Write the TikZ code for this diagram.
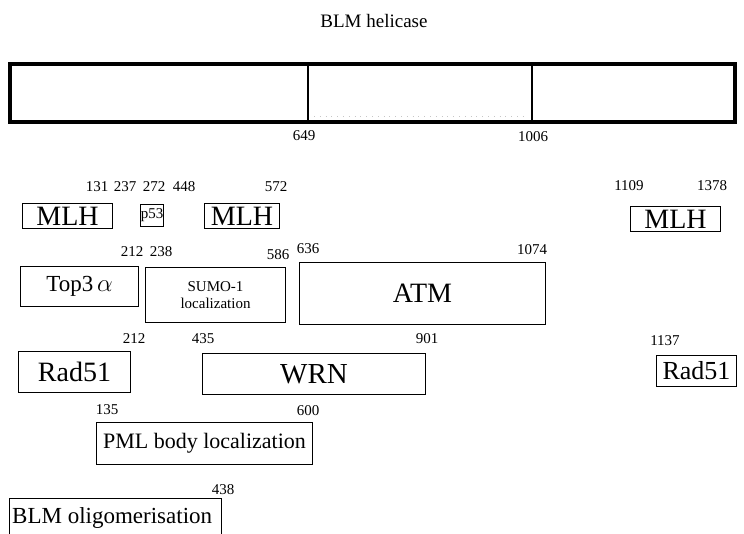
\documentclass[tikz,border=0pt]{standalone}
\usepackage{fontspec}
\setmainfont{Liberation Serif}
\begin{document}
\begin{tikzpicture}[x=1pt,y=-1pt,
  bx/.style={draw,line width=1pt,inner sep=0pt,anchor=north west},
  num/.style={inner sep=0pt,font=\fontsize{15}{15}\selectfont},
  big/.style={font=\fontsize{28}{28}\selectfont},
  mid/.style={font=\fontsize{22}{22}\selectfont}]
\useasboundingbox (0,0) rectangle (744,533);
\node[font=\fontsize{19}{19}\selectfont] (title) at (374,21) {BLM helicase};
% main bar
\draw[line width=4pt] (10,64) rectangle (735,122);
\draw[line width=1.2pt] (308,64) -- (308,122);
\draw[line width=1.2pt] (532,64) -- (532,122);
\draw[gray!45,line width=0.8pt,dash pattern=on 0.8pt off 5pt] (314,116) -- (528,116);
\node[num] (n649) at (304,136) {649};
\node[num] (n1006) at (533,137) {1006};
% row 1
\node[num] (n131) at (97,187) {131};
\node[num] (n237) at (125,187) {237};
\node[num] (n272) at (154,187) {272};
\node[num] (n448) at (184,187) {448};
\node[num] (n572) at (276,187) {572};
\node[bx,big,minimum width=90pt,minimum height=25pt] (mlh1) at (22,203) {MLH};
\node[bx,font=\fontsize{15}{15}\selectfont,minimum width=23pt,minimum height=22pt] (p53) at (140,204) {p53};
\node[bx,big,minimum width=75pt,minimum height=25pt] (mlh2) at (204,203) {MLH};
\node[num] (n1109) at (629,186) {1109};
\node[num] (n1378) at (712,186) {1378};
\node[bx,big,minimum width=90pt,minimum height=25pt] (mlh3) at (630,206) {MLH};
% row 2
\node[num] (n212a) at (132,252) {212};
\node[num] (n238) at (161,252) {238};
\node[num] (n586) at (278,255) {586};
\node[num] (n636) at (308,249) {636};
\node[num] (n1074) at (532,250) {1074};
\node[bx,font=\fontsize{23}{23}\selectfont,minimum width=118pt,minimum height=40pt] (top3) at (20,266) {Top3\,$\alpha$};
\node[bx,font=\fontsize{15}{17}\selectfont,align=center,minimum width=140pt,minimum height=55pt] (sumo) at (145,267) {SUMO-1\\localization};
\node[bx,big,minimum width=246pt,minimum height=62pt] (atm) at (299,262) {ATM};
% row 3
\node[num] (n212b) at (134,339) {212};
\node[num] (n435) at (203,339) {435};
\node[num] (n901) at (427,339) {901};
\node[num] (n1137) at (665,341) {1137};
\node[bx,big,minimum width=112pt,minimum height=41pt] (rad1) at (18,351) {Rad51};
\node[bx,font=\fontsize{29}{29}\selectfont,minimum width=223pt,minimum height=41pt] (wrn) at (202,353) {WRN};
\node[bx,font=\fontsize{26}{26}\selectfont,minimum width=80pt,minimum height=31pt] (rad2) at (656,355) {Rad51};
% row 4
\node[num] (n135) at (107,410) {135};
\node[num] (n600) at (308,411) {600};
\node[bx,mid,minimum width=216pt,minimum height=42pt] (pml) at (96,422) {PML body localization};
% row 5
\node[num] (n438) at (223,490) {438};
\node[bx,minimum width=212pt,minimum height=40pt] (olig) at (9,498) {};
\node[font=\fontsize{23}{23}\selectfont,anchor=west,inner sep=0pt] (oligt) at (12,518) {BLM oligomerisation};
\end{tikzpicture}
\end{document}
